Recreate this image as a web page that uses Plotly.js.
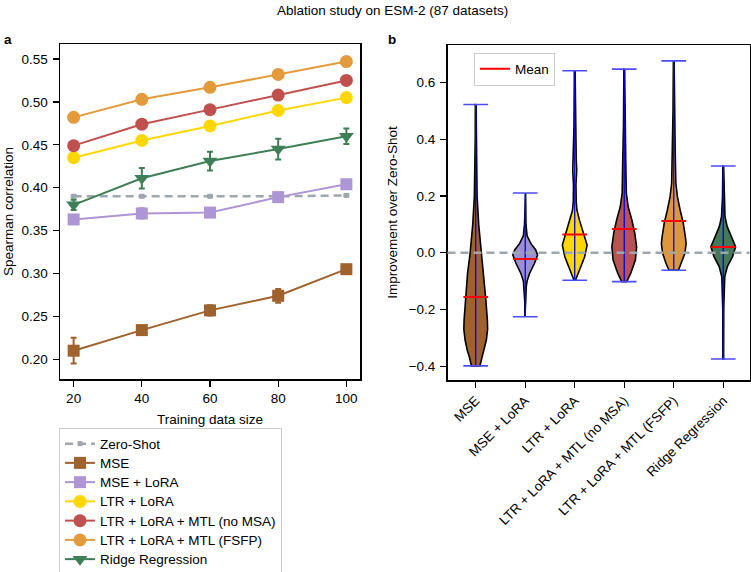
<!DOCTYPE html>
<html>
<head>
<meta charset="utf-8">
<script src="https://cdn.plot.ly/plotly-3.0.1.min.js"></script>
<style>html,body{margin:0;padding:0;background:#fff;}#chart{width:751px;height:572px;}</style>
</head>
<body>
<div id="chart"></div>
<script>
// ---------- Panel a data ----------
const trainSizes = [20, 40, 60, 80, 100];
const seriesNames = ["Zero-Shot", "MSE", "MSE + LoRA", "LTR + LoRA", "LTR + LoRA + MTL (no MSA)", "LTR + LoRA + MTL (FSFP)", "Ridge Regression"];
const zeroShot    = [0.390, 0.390, 0.390, 0.390, 0.391];
const zeroShotErr = [0.001, 0.001, 0.001, 0.001, 0.001];
const mse         = [0.210, 0.234, 0.257, 0.274, 0.305];
const mseErr      = [0.015, 0.004, 0.006, 0.008, 0.004];
const mseLora     = [0.363, 0.370, 0.371, 0.389, 0.404];
const mseLoraErr  = [0.004, 0.006, 0.005, 0.005, 0.003];
const ltrLora     = [0.435, 0.455, 0.472, 0.490, 0.505];
const ltrLoraErr  = [0.003, 0.003, 0.003, 0.003, 0.003];
const noMsa       = [0.449, 0.474, 0.491, 0.508, 0.525];
const noMsaErr    = [0.003, 0.003, 0.003, 0.003, 0.003];
const fsfp        = [0.482, 0.503, 0.517, 0.532, 0.547];
const fsfpErr     = [0.003, 0.003, 0.003, 0.003, 0.003];
const ridge       = [0.380, 0.411, 0.431, 0.445, 0.460];
const ridgeErr    = [0.006, 0.012, 0.011, 0.012, 0.009];

// ---------- Panel b data ----------
const methods = ["MSE", "MSE + LoRA", "LTR + LoRA", "LTR + LoRA + MTL (no MSA)", "LTR + LoRA + MTL (FSFP)", "Ridge Regression"];
const vMin  = [-0.399, -0.226, -0.097, -0.102, -0.062, -0.375];
const vMax  = [0.523, 0.211, 0.642, 0.648, 0.677, 0.306];
const vMean = [-0.156, -0.022, 0.064, 0.084, 0.112, 0.020];

// density profiles (relative width)
const prof0_y = [0.523, 0.40, 0.30, 0.20, 0.10, 0.00, -0.073, -0.167, -0.237, -0.27, -0.308, -0.345, -0.367, -0.399];
const prof0_w = [0.03, 0.04, 0.06, 0.11, 0.24, 0.45, 0.66, 0.82, 0.94, 0.96, 0.86, 0.68, 0.52, 0.34];
const prof1_y = [0.211, 0.10, 0.06, 0.033, 0.01, -0.008, -0.037, -0.073, -0.10, -0.12, -0.17, -0.226];
const prof1_w = [0.03, 0.06, 0.15, 0.45, 0.85, 1.00, 0.75, 0.35, 0.15, 0.08, 0.04, 0.03];
const prof2_y = [0.642, 0.45, 0.33, 0.29, 0.24, 0.18, 0.15, 0.115, 0.069, 0.027, -0.014, -0.061, -0.097];
const prof2_w = [0.03, 0.06, 0.12, 0.16, 0.10, 0.12, 0.18, 0.38, 0.72, 1.00, 0.80, 0.38, 0.06];
const prof3_y = [0.648, 0.45, 0.33, 0.21, 0.162, 0.115, 0.069, 0.021, -0.026, -0.073, -0.102];
const prof3_w = [0.03, 0.06, 0.12, 0.17, 0.32, 0.62, 0.85, 1.00, 0.90, 0.52, 0.20];
const prof4_y = [0.677, 0.50, 0.35, 0.245, 0.197, 0.15, 0.104, 0.056, 0.033, -0.002, -0.037, -0.062];
const prof4_w = [0.03, 0.06, 0.12, 0.17, 0.30, 0.52, 0.77, 0.94, 1.00, 0.90, 0.63, 0.38];
const prof5_y = [0.306, 0.20, 0.127, 0.092, 0.056, 0.021, -0.014, -0.049, -0.085, -0.20, -0.375];
const prof5_w = [0.03, 0.06, 0.14, 0.32, 0.65, 1.00, 0.75, 0.33, 0.12, 0.04, 0.03];

const profilesY = [prof0_y, prof1_y, prof2_y, prof3_y, prof4_y, prof5_y];
const profilesW = [prof0_w, prof1_w, prof2_w, prof3_w, prof4_w, prof5_w];

const violinColors = ["#A0622D", "#9D8FD2", "#FFD700", "#B85450", "#E0963C", "#45795A"];
const lineColors = ["#9DA7AE", "#A0622D", "#AE95D6", "#FFD700", "#C0504D", "#E39A3B", "#3F7F56"];

const FONT = "Liberation Sans, Arial, Helvetica, sans-serif";
const FS = 13.5;

function legendName(s) { return '<span style="font-size:13.5px">' + s + '</span>'; }

function lineTrace(idx, y, err, symbol, size, extra) {
  const color = lineColors[idx];
  return Object.assign({
    type: "scatter", mode: "lines+markers", name: legendName(seriesNames[idx]),
    x: trainSizes, y: y, xaxis: "x", yaxis: "y",
    line: {color: color, width: 2},
    marker: {color: color, symbol: symbol, size: size, line: {width: 0}},
    error_y: {type: "data", array: err, visible: true, color: color, thickness: 2, width: 3},
    legend: "legend"
  }, extra || {});
}

const traces = [
  lineTrace(0, zeroShot, zeroShotErr, "square", 5, {line: {color: lineColors[0], width: 2.5, dash: "8px,5px"}}),
  lineTrace(1, mse, mseErr, "square", 12),
  lineTrace(2, mseLora, mseLoraErr, "square", 12),
  lineTrace(3, ltrLora, ltrLoraErr, "circle", 13),
  lineTrace(4, noMsa, noMsaErr, "circle", 13),
  lineTrace(5, fsfp, fsfpErr, "circle", 13),
  lineTrace(6, ridge, ridgeErr, "triangle-down", 13)
];

const HALF = 0.25;
for (let i = 0; i < methods.length; i++) {
  const ys = profilesY[i], ws = profilesW[i];
  const px = [], py = [];
  for (let k = 0; k < ys.length; k++) { px.push(i + ws[k] * HALF); py.push(ys[k]); }
  for (let k = ys.length - 1; k >= 0; k--) { px.push(i - ws[k] * HALF); py.push(ys[k]); }
  px.push(px[0]); py.push(py[0]);
  traces.push({
    type: "scatter", mode: "lines", x: px, y: py, xaxis: "x2", yaxis: "y2",
    fill: "toself", fillcolor: violinColors[i],
    line: {color: "#000", width: 1.6},
    showlegend: false, hoverinfo: "skip"
  });
}
const barX = [], barY = [], capX = [], capY = [], meanX = [], meanY = [];
for (let i = 0; i < methods.length; i++) {
  barX.push(i, i, null); barY.push(vMin[i], vMax[i], null);
  capX.push(i - HALF, i + HALF, null, i - HALF, i + HALF, null);
  capY.push(vMin[i], vMin[i], null, vMax[i], vMax[i], null);
  meanX.push(i - HALF, i + HALF, null); meanY.push(vMean[i], vMean[i], null);
}
traces.push({type: "scatter", mode: "lines", x: barX, y: barY, xaxis: "x2", yaxis: "y2",
  line: {color: "#0000EE", width: 1.3}, showlegend: false, hoverinfo: "skip"});
traces.push({type: "scatter", mode: "lines", x: capX, y: capY, xaxis: "x2", yaxis: "y2",
  line: {color: "#4B4BFF", width: 1.6}, showlegend: false, hoverinfo: "skip"});
traces.push({type: "scatter", mode: "lines", name: "Mean", x: meanX, y: meanY, xaxis: "x2", yaxis: "y2",
  line: {color: "#FF0000", width: 2}, showlegend: true, legend: "legend2", hoverinfo: "skip"});

const axisCommon = {
  showline: true, mirror: true, linecolor: "#000", linewidth: 1.5,
  ticks: "outside", ticklen: 6, tickwidth: 1.2, tickcolor: "#000",
  showgrid: false, zeroline: false, automargin: false,
  tickfont: {family: FONT, size: FS, color: "#000"}
};

const layout = {
  width: 751, height: 572,
  margin: {l: 0, r: 0, t: 0, b: 0, autoexpand: false},
  paper_bgcolor: "#fff", plot_bgcolor: "#fff",
  font: {family: FONT, size: FS, color: "#000"},
  xaxis: Object.assign({}, axisCommon, {
    domain: [60/751, 360/751], range: [16, 104], tickvals: trainSizes, anchor: "y",
    title: {text: "Training data size", font: {family: FONT, size: FS}, standoff: 10}
  }),
  yaxis: Object.assign({}, axisCommon, {
    domain: [1 - 379/572, 1 - 44/572], range: [0.177, 0.5675], dtick: 0.05, tick0: 0.2,
    tickformat: ".2f", anchor: "x", ticklabelstandoff: 2,
    title: {text: "Spearman correlation", font: {family: FONT, size: FS}, standoff: 5}
  }),
  xaxis2: Object.assign({}, axisCommon, {
    domain: [447.5/751, 749.5/751], range: [-0.57, 5.53], tickvals: [0, 1, 2, 3, 4, 5],
    ticktext: methods, tickangle: -45, anchor: "y2"
  }),
  yaxis2: Object.assign({}, axisCommon, {
    domain: [1 - 380/572, 1 - 45/572], range: [-0.449, 0.733],
    tickvals: [-0.4, -0.2, 0, 0.2, 0.4, 0.6], tickformat: ".1f", anchor: "x2", ticklabelstandoff: 2,
    title: {text: "Improvement over Zero-Shot", font: {family: FONT, size: FS}, standoff: 8}
  }),
  legend: {
    x: 59/751, y: 1 - 428/572, xanchor: "left", yanchor: "top",
    bgcolor: "#fff", bordercolor: "#CCCCCC", borderwidth: 1,
    font: {family: FONT, size: 12.5, color: "#000"}, tracegroupgap: 0
  },
  legend2: {
    x: 474/751, y: 1 - 52.5/572, xanchor: "left", yanchor: "top",
    bgcolor: "#fff", bordercolor: "#CCCCCC", borderwidth: 1,
    font: {family: FONT, size: FS, color: "#000"}
  },
  shapes: [{
    type: "line", xref: "x2 domain", yref: "y2", x0: 0, x1: 1, y0: 0, y1: 0,
    line: {color: "#9DA7AE", width: 2.5, dash: "8px,5px"}, layer: "above"
  }],
  annotations: [
    {text: "Ablation study on ESM-2 (87 datasets)", xref: "paper", yref: "paper",
     x: 392/751, y: 1 - 10/572, xanchor: "center", yanchor: "middle", showarrow: false,
     font: {family: FONT, size: FS, color: "#000"}},
    {text: "<b>a</b>", xref: "paper", yref: "paper", x: 8/751, y: 1 - 40/572,
     xanchor: "center", yanchor: "middle", showarrow: false, font: {family: FONT, size: FS}},
    {text: "<b>b</b>", xref: "paper", yref: "paper", x: 392/751, y: 1 - 40/572,
     xanchor: "center", yanchor: "middle", showarrow: false, font: {family: FONT, size: FS}}
  ]
};

Plotly.newPlot("chart", traces, layout, {displayModeBar: false, staticPlot: true});
</script>
</body>
</html>
